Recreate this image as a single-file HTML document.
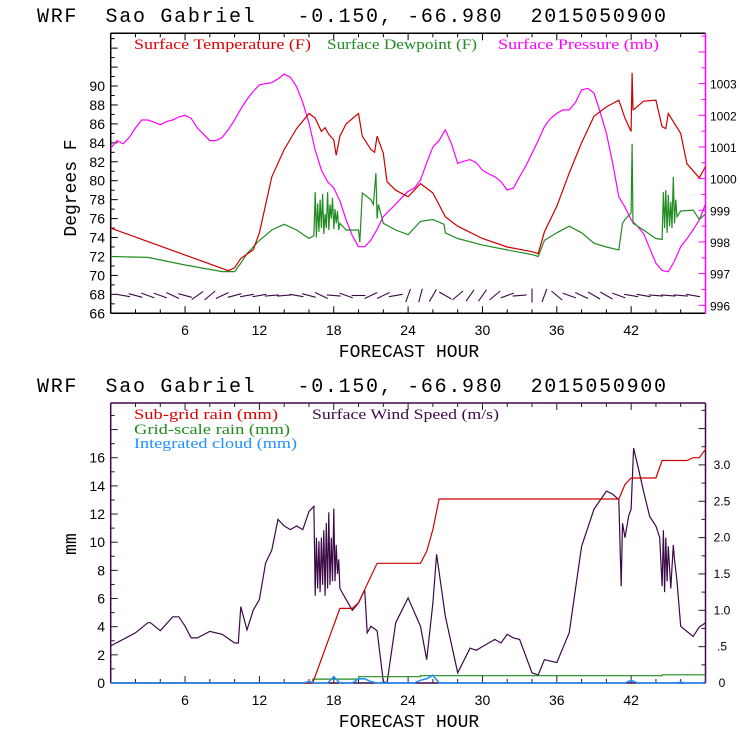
<!DOCTYPE html>
<html><head><meta charset="utf-8"><style>
html,body{margin:0;padding:0;background:#fff;width:740px;height:740px;overflow:hidden}
svg{display:block}
.ttl{font-family:"Liberation Mono",monospace;font-size:20px;white-space:pre}
.tk{font-family:"Liberation Sans",sans-serif;font-size:14px}
.rt{font-family:"Liberation Sans",sans-serif;font-size:12px}
.lg{font-family:"Liberation Serif",serif;font-size:15px}
.ax{font-family:"Liberation Mono",monospace;font-size:18px}
</style></head><body>
<svg id="c" width="740" height="740" xmlns="http://www.w3.org/2000/svg"></svg>
<script>
// ---------- data ----------
const xTicks=[6,12,18,24,30,36,42];
const tempTicks=[66,68,70,72,74,76,78,80,82,84,86,88,90];
const presTicks=[996,997,998,999,1000,1001,1002,1003];
const mmTicks=[0,2,4,6,8,10,12,14,16];
const windTicks=[0,0.5,1.0,1.5,2.0,2.5,3.0];
const windTickLabels=["0",".5","1.0","1.5","2.0","2.5","3.0"];

const tempH=[0,9.5,10,10.5,11.5,12,13,14,15,16,16.5,17,17.3,17.6,18,18.2,18.5,19,20,20.3,21,21.3,21.5,22,22.3,23,24,25,26,27,28,30,32,34,34.5,35,36,37,38,39,40,41,41.5,42,42.08,42.15,42.2,43,44,44.5,44.8,45,46,46.5,47.5,48];
const tempV=[75,70.5,70.8,71.8,72.7,74.5,80.4,83.3,85.5,87.1,86.6,85.2,85.6,84.9,84.3,82.7,84.7,86,87.1,84.7,83.3,83,84.7,82.9,79.9,79,78.3,79.7,78.7,76.2,75.2,73.9,73,72.5,72.3,74.6,77.3,80.8,84,86.8,87.8,88.5,86.6,85.2,91.4,87.5,87.5,88.4,88.5,85.7,85.5,87.1,85,81.8,80.3,81.5];

const dewH=[0,3,6,9,10,10.5,11,12,13,14,15,16,16.4,16.5,16.6,16.7,16.8,16.9,17,17.1,17.2,17.3,17.4,17.5,17.6,17.7,17.8,17.9,18,18.1,18.2,18.3,18.4,18.5,19,20,20.1,20.3,21,21.2,21.4,21.5,21.6,22,23,24,25,26,26.9,27,28,30,32,34,34.5,35,36,37,38,39,40,41,41.3,41.5,42,42.08,42.15,43,44,44.5,44.6,44.7,44.8,44.9,45,45.1,45.2,45.3,45.4,45.5,45.6,45.7,46,47,47.5,48];
const dewV=[72,71.9,71.1,70.4,70.4,71.3,72.3,73.7,74.8,75.4,74.8,73.9,74.2,78.8,74,77.6,74.6,78,75,78.6,74.4,76.5,75,78.8,74.8,77.5,76,78.2,74.9,77,75.5,76.8,74.8,75.5,74.8,74.8,73.5,78.7,78,77.5,80.8,76,77.5,75.5,74.8,74.3,75.7,75.9,75.4,74.5,73.9,73.2,72.7,72.2,72,73.7,74.5,75.2,74.5,73.4,73,72.7,75.5,75.9,76.6,83.9,75.5,74.8,73.9,73.8,78.8,75,79,74.5,78.5,75.2,77.8,75,80.4,75.5,78,76.2,76.8,76.9,75.9,76.5,77.3];

const presH=[0,0.5,1,1.5,2,2.5,3,3.5,4,4.5,5,5.5,6,6.5,7,7.5,8,8.5,9,9.5,10,10.5,11,11.5,12,12.5,13,13.5,14,14.5,15,15.5,16,16.5,17,17.5,18,18.5,19,19.5,20,20.5,21,21.5,22,22.5,23,23.5,24,24.5,25,25.5,26,26.5,27,27.5,28,28.5,29,29.5,30,30.5,31,31.5,32,32.5,33,33.5,34,34.5,35,35.5,36,36.5,37,37.5,38,38.5,39,39.5,40,40.5,41,41.5,42,42.5,43,43.5,44,44.5,45,45.5,46,46.5,47,47.5,48];
const presV=[1000.96,1001.2,1001.1,1001.3,1001.6,1001.85,1001.85,1001.78,1001.7,1001.8,1001.85,1001.95,1002.0,1001.9,1001.6,1001.4,1001.2,1001.2,1001.3,1001.55,1001.85,1002.2,1002.5,1002.75,1002.96,1003.0,1003.03,1003.15,1003.3,1003.2,1002.9,1002.4,1001.75,1000.9,1000.27,999.9,999.7,999.3,998.7,998.2,997.85,997.85,998.06,998.4,998.8,999.0,999.2,999.4,999.6,999.7,999.96,1000.5,1001.0,1001.2,1001.54,1001.1,1000.48,1000.55,1000.6,1000.5,1000.27,1000.15,1000.06,999.9,999.64,999.7,1000.06,1000.4,1000.8,1001.2,1001.64,1001.9,1002.06,1002.17,1002.17,1002.4,1002.8,1002.85,1002.7,1002.1,1001.43,1000.5,999.43,999.1,998.7,998.5,998.27,997.8,997.33,997.1,997.06,997.4,997.85,998.1,998.38,998.7,999.2];

const barbH=[1,2,3,4,5,6,7,8,9,10,11,12,13,14,15,16,17,18,19,20,21,22,23,24,25,26,27,28,29,30,31,32,33,34,35,36,37,38,39,40,41,42,43,44,45,46,47];
const barbDir=[-10,-15,-20,-20,-25,-15,35,40,25,15,10,10,5,5,-10,-15,-25,-5,-20,0,25,25,10,70,75,60,-30,40,55,55,40,20,5,90,70,-40,-20,-25,-30,-30,-20,-10,-10,-5,-5,-5,-10];

const rainH=[0,16,16.3,18.5,19.5,20,21.5,25,25.5,26,26.5,41,41.5,42,44,44.5,46.5,47,47.5,48];
const rainV=[0,0,0,5.3,5.3,5.7,8.5,8.5,9.35,10.9,13.07,13.07,14.1,14.56,14.56,15.8,15.8,16,16,16.6];
const gridH=[0,16.3,16.31,20,20.01,25,25.01,44.5,44.51,48];
const gridV=[0,0,0.28,0.28,0.45,0.45,0.52,0.52,0.58,0.58];
const cloudH=[0,15.5,16,16.5,17.5,18,18.5,19.5,20,20.5,21,21.5,24.5,25,25.5,26,26.5,41.5,42,42.5,45.5,46,46.5,47.8,48];
const cloudV=[0,0,0.1,0,0,0.45,0,0,0.3,0.3,0.1,0,0,0.2,0.3,0.55,0,0,0.2,0,0,0.05,0,0,0.1];

const windH=[0,2,3,3.2,4,5,5.5,6,6.5,7,8,9,10,10.3,10.5,11,11.5,12,12.5,13,13.5,14,14.5,15,15.5,16,16.4,16.5,16.6,16.7,16.8,16.9,17,17.1,17.2,17.3,17.4,17.5,17.6,17.7,17.8,17.9,18,18.1,18.2,18.3,18.4,18.5,19,19.5,20,20.5,20.7,21,21.5,22,22.3,23,24,25,25.5,26,26.3,27,28,29,29.5,30,31,31.5,32,32.5,33,34,34.5,35,36,37,38,39,40,40.5,41,41.2,41.3,41.5,41.8,42,42.2,42.6,43,43.5,44,44.3,44.5,44.6,44.7,44.8,44.9,45,45.2,45.4,45.5,45.7,46,47,47.5,48];
const windV=[0.51,0.69,0.83,0.83,0.72,0.91,0.91,0.78,0.62,0.62,0.71,0.67,0.55,0.55,1.05,0.73,1.0,1.15,1.65,1.83,2.25,2.16,2.11,2.16,2.11,2.36,2.43,1.2,2.0,1.3,1.95,1.25,2.0,1.35,2.1,1.2,2.2,1.3,2.35,1.35,2.0,1.4,2.4,1.4,1.9,1.5,1.7,1.3,1.15,1.0,1.1,1.28,0.69,0.78,0.72,0.02,0.0,0.83,1.17,0.78,0.32,1.1,1.77,0.92,0.14,0.48,0.45,0.5,0.6,0.55,0.67,0.62,0.6,0.14,0.11,0.32,0.28,0.69,1.88,2.39,2.64,2.6,2.52,1.33,2.2,2.0,2.3,2.39,3.23,2.94,2.64,2.29,2.16,2.0,1.33,2.1,1.25,2.0,1.4,1.88,1.3,1.9,1.7,1.4,0.78,0.64,0.77,0.83];

// ---------- drawing ----------
const NS="http://www.w3.org/2000/svg";
const svg=document.getElementById('c');
function mk(tag,attrs,parent){const e=document.createElementNS(NS,tag);for(const k in attrs)e.setAttribute(k,attrs[k]);(parent||svg).appendChild(e);return e;}
const X0=110.7,X1=705.5;
function xs(h){return X0+(X1-X0)*h/48;}
function tY(v){return 313.3-(v-66)*9.47;}
function pY(v){return 305.3-(v-996)*31.67;}
function mY(v){return 683-v*14.08;}
function wY(v){return 683-v*72.7;}

function line(hs,vs,yf,color,name,w){
  let d='';for(let i=0;i<hs.length;i++){d+=(i?'L':'M')+xs(hs[i]).toFixed(1)+' '+yf(vs[i]).toFixed(1);}
  const p=mk('path',{d:d,fill:'none',stroke:color,'stroke-width':w||1.2});
  
  
}
function text(x,y,s,cls,fill,anchor,name,extra){
  const t=mk('text',Object.assign({x:x,y:y,class:cls,fill:fill,'text-anchor':anchor||'start'},extra||{}));
  t.textContent=s;
  
  
  return t;
}
function frame(top,bot,leftCol,rightCol,name){
  const g=mk('g',{});
  
  
  mk('line',{x1:X0,y1:top,x2:X1,y2:top,stroke:leftCol,'stroke-width':1.5},g);
  mk('line',{x1:X0,y1:bot,x2:X1,y2:bot,stroke:leftCol,'stroke-width':1.5},g);
  mk('line',{x1:X0,y1:top,x2:X0,y2:bot,stroke:leftCol,'stroke-width':1.5},g);
  mk('line',{x1:X1,y1:top,x2:X1,y2:bot,stroke:rightCol,'stroke-width':1.5},g);
  for(let h=2;h<48;h+=2){const L=(h%6==0)?7:4;
    mk('line',{x1:xs(h),y1:bot,x2:xs(h),y2:bot-L,stroke:leftCol},g);
    mk('line',{x1:xs(h),y1:top,x2:xs(h),y2:top+L,stroke:leftCol},g);}
  return g;
}
const TITLE="WRF  Sao Gabriel   -0.150, -66.980  2015050900";
// ===== top chart =====
text(37,22,TITLE,"ttl","#000","start","top-chart-title",{textLength:629,lengthAdjust:"spacing"});
const f1=frame(33.3,313.3,"#000","#ff00ff","top-plot-frame");
for(let v=66;v<=95;v++){const y=tY(v);if(y<34)break;const L=(v%2==0)?7:4;mk('line',{x1:X0,y1:y,x2:X0+L,y2:y,stroke:'#000'},f1);}
tempTicks.forEach(v=>text(105,tY(v)+5,String(v),"tk","#000","end","temp-tick-"+v));
for(let v=996;v<=1004.8;v+=0.5){const y=pY(v);if(y<34)break;const L=(Math.abs(v%1)<0.01)?7:4;mk('line',{x1:X1,y1:y,x2:X1-L,y2:y,stroke:'#ff00ff'},f1);}
presTicks.forEach(v=>text(710,pY(v)+5,String(v),"rt","#000","start","pressure-tick-"+v));
xTicks.forEach(h=>text(xs(h),335,String(h),"tk","#000","middle","top-x-tick-"+h));
text(409,357,"FORECAST HOUR","ax","#000","middle","top-x-axis-title");
text(76,188,"Degrees F","ax","#000","middle","top-y-axis-title",{transform:"rotate(-90 76 188)"});
text(134,49,"Surface Temperature (F)","lg","#dd0000","start","legend-temperature",{textLength:177,lengthAdjust:"spacingAndGlyphs"});
text(327,49,"Surface Dewpoint (F)","lg","#228b22","start","legend-dewpoint",{textLength:150,lengthAdjust:"spacingAndGlyphs"});
text(498,49,"Surface Pressure (mb)","lg","#ff00ff","start","legend-pressure",{textLength:161,lengthAdjust:"spacingAndGlyphs"});
line(presH,presV,pY,"#ff00ff","pressure-line");
line(dewH,dewV,tY,"#228b22","dewpoint-line");
line(tempH,tempV,tY,"#cc0000","temperature-line");
// wind barbs
const bg=mk('g',{});


barbH.forEach((h,i)=>{const a=barbDir[i]*Math.PI/180;const x=xs(h),y=295.5;const L=14;
  mk('line',{x1:x-L/2*Math.cos(a),y1:y+L/2*Math.sin(a),x2:x+L/2*Math.cos(a),y2:y-L/2*Math.sin(a),stroke:'#3c0a46','stroke-width':1.1},bg);});
// ===== bottom chart =====
text(37,392,TITLE,"ttl","#000","start","bottom-chart-title",{textLength:629,lengthAdjust:"spacing"});
const f2=frame(403,683,"#3c0a46","#3c0a46","bottom-plot-frame");
for(let v=0;v<=19.5;v+=1){const y=mY(v);if(y<404)break;const L=(v%2==0)?7:4;mk('line',{x1:X0,y1:y,x2:X0+L,y2:y,stroke:'#3c0a46'},f2);}
mmTicks.forEach(v=>text(105,mY(v)+5,String(v),"tk","#000","end","mm-tick-"+v));
for(let v=0;v<=3.8;v+=0.25){const y=wY(v);if(y<404)break;const L=(Math.abs(v%0.5)<0.01)?7:4;mk('line',{x1:X1,y1:y,x2:X1-L,y2:y,stroke:'#3c0a46'},f2);}
windTicks.forEach((v,i)=>text(722,wY(v)+4,windTickLabels[i],"rt","#000","middle","wind-tick-"+i));
xTicks.forEach(h=>text(xs(h),705,String(h),"tk","#000","middle","bottom-x-tick-"+h));
text(409,727,"FORECAST HOUR","ax","#000","middle","bottom-x-axis-title");
text(76,544,"mm","ax","#000","middle","bottom-y-axis-title",{transform:"rotate(-90 76 544)"});
text(134,419,"Sub-grid rain (mm)","lg","#dd0000","start","legend-subgrid-rain",{textLength:144,lengthAdjust:"spacingAndGlyphs"});
text(312,419,"Surface Wind Speed (m/s)","lg","#3c0a46","start","legend-wind-speed",{textLength:187,lengthAdjust:"spacingAndGlyphs"});
text(134,434,"Grid-scale rain (mm)","lg","#228b22","start","legend-grid-rain",{textLength:156,lengthAdjust:"spacingAndGlyphs"});
text(134,448,"Integrated cloud (mm)","lg","#1e90ff","start","legend-cloud",{textLength:163,lengthAdjust:"spacingAndGlyphs"});
line(windH,windV,wY,"#3c0a46","wind-speed-line");
line(gridH,gridV,mY,"#228b22","grid-rain-line");
line(rainH,rainV,mY,"#cc0000","subgrid-rain-line");
line(cloudH,cloudV,mY,"#1e90ff","cloud-line",1.6);
</script>
</body></html>
